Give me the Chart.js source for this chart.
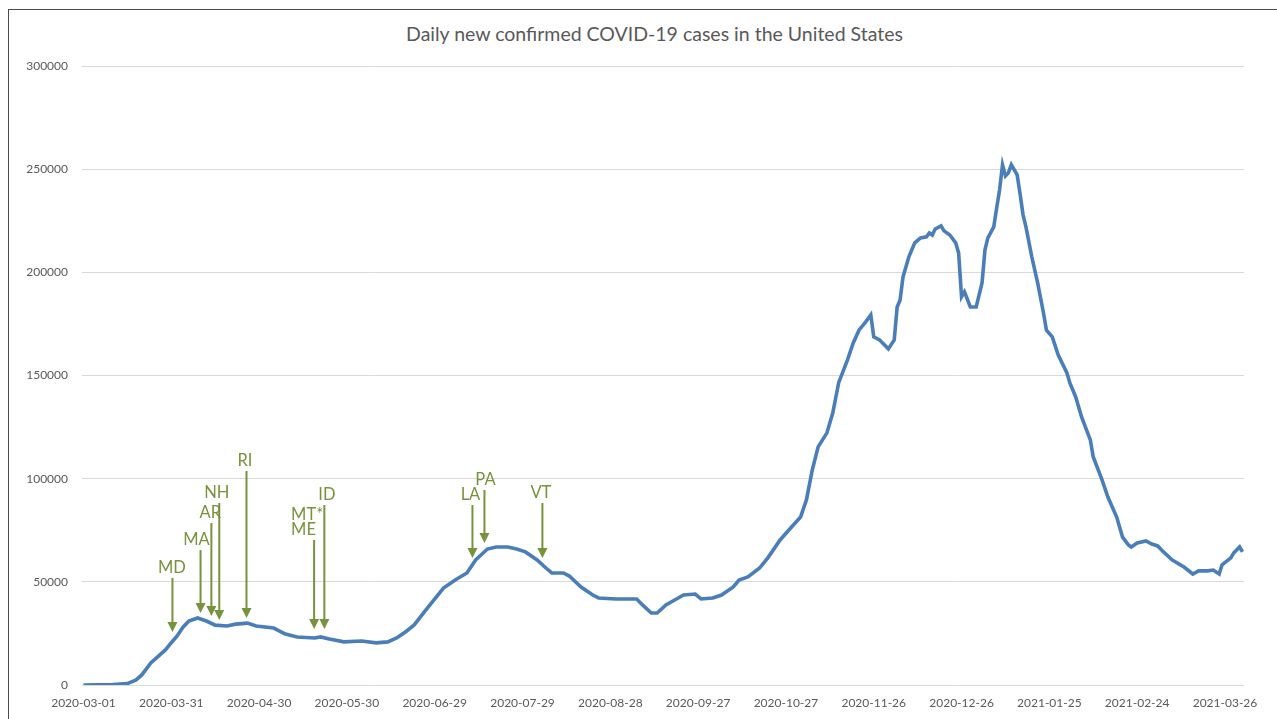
<!DOCTYPE html>
<html>
<head>
<meta charset="utf-8">
<script src="https://cdn.jsdelivr.net/npm/chart.js@4.4.1/dist/chart.umd.min.js"></script>
<style>
  html, body { margin:0; padding:0; background:#fff; }
  body { width:1277px; height:719px; overflow:hidden; position:relative; font-family: Lato, "Open Sans", sans-serif; }
  .frame { position:absolute; left:8px; top:9px; width:1400px; height:800px; border-left:1.5px solid #4d4d4d; border-top:1.5px solid #4d4d4d; }
  .title { position:absolute; left:0; width:1309px; top:22px; text-align:center; font-size:19.5px; color:#595959; }
  #wrap { position:absolute; left:0; top:0; width:1277px; height:719px; }
</style>
</head>
<body>
<div class="frame"></div>
<div class="title">Daily new confirmed COVID-19 cases in the United States</div>
<div id="wrap"><canvas id="chart" width="1277" height="719"></canvas></div>
<script>
// x axis: days since 2020-03-01, labelled every 30 days
const tickDays = [0, 30, 60, 90, 120, 150, 180, 210, 240, 270, 300, 330, 360, 390];
const tickLabels = ['2020-03-01', '2020-03-31', '2020-04-30', '2020-05-30', '2020-06-29', '2020-07-29',
  '2020-08-28', '2020-09-27', '2020-10-27', '2020-11-26', '2020-12-26', '2021-01-25', '2021-02-24', '2021-03-26'];

// curve
const days = [0, 5, 10, 15, 18, 20, 23, 26, 28, 30, 32, 34, 36, 39, 42, 45, 49, 52, 56, 59,
  65, 69, 73, 79, 81, 84, 89, 95, 100, 104, 107, 110, 113, 117, 123, 127, 131, 134, 138, 141,
  145, 148, 151, 155, 158, 160, 164, 166, 170, 174, 176, 182, 189, 191, 194, 196, 199, 202, 205, 209,
  211, 215, 218, 222, 224, 227, 231, 234, 238, 241, 245, 247, 249, 251, 254, 256, 258, 261, 263, 265,
  267, 269, 270, 272, 275, 277, 278, 279, 280, 282, 284, 286, 288, 289, 290, 291, 293, 294, 296, 298,
  299, 300, 301, 303, 305, 307, 308, 309, 311, 312, 313, 314, 315, 316, 317, 319, 320, 321, 322, 324,
  326, 328, 329, 331, 333, 336, 337, 339, 341, 344, 345, 348, 350, 353, 355, 357, 358, 360, 363, 365,
  367, 369, 372, 376, 379, 381, 384, 386, 388, 389, 392, 393, 395, 396];
const cases = [10, 40, 200, 700, 2500, 5000, 10700, 14500, 17000, 20500, 23800, 28000, 31000, 32500, 31000, 29000, 28600, 29500, 30000, 28600,
  27600, 24700, 23300, 22800, 23300, 22300, 20900, 21300, 20400, 20900, 22800, 25700, 29100, 36400, 47000, 50900, 54300, 60600, 65900, 66900,
  66900, 65900, 64500, 60600, 56700, 54300, 54300, 52800, 47500, 43600, 42200, 41700, 41700, 38800, 34900, 34900, 38800, 41200, 43600, 44100,
  41700, 42200, 43600, 47500, 50900, 52400, 56700, 62000, 70300, 75100, 81400, 89700, 104200, 115400, 122200, 131800, 146400, 157500, 165800, 172100,
  175500, 179400, 168700, 167200, 162900, 167200, 183200, 186600, 197800, 207500, 214300, 216700, 217200, 219100, 218100, 221000, 222500, 220100, 218100, 214300,
  209400, 188100, 190500, 183200, 183200, 194900, 210900, 216700, 222000, 231200, 240000, 252100, 246700, 248200, 252100, 247200, 238000, 228000, 222000, 207500,
  194900, 180300, 172000, 168700, 160000, 151200, 146400, 139600, 129900, 118800, 110500, 99400, 91100, 81400, 71700, 67900, 66900, 68800, 69800, 68300,
  67400, 64500, 60600, 57200, 53800, 55300, 55300, 55700, 53800, 58200, 61600, 64000, 66900, 64500];

// state markers: arrow from noteTops down to noteTips
const noteLabels = ['MD', 'MA', 'AR', 'NH', 'RI', 'MT*\nME', 'ID', 'LA', 'PA', 'VT'];
const noteDays = [30.4, 40, 43.7, 46.4, 55.7, 78.8, 82.3, 132.9, 137, 156.8];
const noteTips = [25700, 34900, 33400, 31500, 32500, 27100, 27100, 61500, 68800, 61500];
const noteTops = [51900, 65400, 78500, 88200, 103700, 70300, 87200, 87200, 94500, 88200];
// small sideways shift of each label against its arrow, px
const labelNudge = [-0.5, -4, -1, -2.5, -1.5, -7, 2.5, -2, 1, -1.5];

const stateArrows = {
  id: 'stateArrows',
  afterDatasetsDraw(chart) {
    const ctx = chart.ctx;
    const xs = chart.scales.x, ys = chart.scales.y;
    ctx.save();
    ctx.strokeStyle = '#77933C';
    ctx.fillStyle = '#77933C';
    ctx.lineWidth = 2;
    ctx.font = '16.5px Lato, "Open Sans", sans-serif';
    ctx.textBaseline = 'middle';
    noteLabels.forEach((label, i) => {
      const x = xs.getPixelForValue(noteDays[i]);
      const yTip = ys.getPixelForValue(noteTips[i]);
      const yTop = ys.getPixelForValue(noteTops[i]);
      ctx.beginPath();
      ctx.moveTo(x, yTop);
      ctx.lineTo(x, yTip - 9);
      ctx.stroke();
      ctx.beginPath();
      ctx.moveTo(x - 5, yTip - 10);
      ctx.lineTo(x + 5, yTip - 10);
      ctx.lineTo(x, yTip);
      ctx.closePath();
      ctx.fill();
      const lines = label.split('\n');
      if (lines.length > 1) {
        // stacked labels share a left edge
        ctx.textAlign = 'left';
        const w = ctx.measureText(lines[0]).width;
        lines.forEach((t, k) => {
          ctx.fillText(t, x + labelNudge[i] - w / 2, yTop - 10 - (lines.length - 1 - k) * 15);
        });
      } else {
        ctx.textAlign = 'center';
        ctx.fillText(label, x + labelNudge[i], yTop - 10);
      }
    });
    ctx.restore();
  }
};

new Chart(document.getElementById('chart'), {
  type: 'line',
  data: {
    datasets: [{
      data: days.map((d, i) => ({ x: d, y: cases[i] })),
      borderColor: '#4A7EBB',
      borderWidth: 3.6,
      pointRadius: 0,
      tension: 0,
      fill: false
    }]
  },
  options: {
    responsive: false,
    devicePixelRatio: 1,
    animation: false,
    layout: { padding: { top: 66, right: 33, left: 0, bottom: 0 } },
    plugins: { legend: { display: false }, tooltip: { enabled: false } },
    scales: {
      x: {
        type: 'linear', min: -0.5, max: 396.5,
        afterBuildTicks: axis => { axis.ticks = tickDays.map(v => ({ value: v })); },
        afterFit: axis => { axis.height = 34; },
        grid: { display: false, drawTicks: false },
        border: { display: false },
        ticks: {
          autoSkip: false, maxRotation: 0, padding: 11,
          color: '#595959', font: { family: 'Lato', size: 12 },
          callback: v => tickLabels[tickDays.indexOf(v)]
        }
      },
      y: {
        min: 0, max: 300000,
        afterFit: axis => { axis.width = 82; },
        grid: { color: '#d9d9d9', lineWidth: 1, drawTicks: false },
        border: { display: false },
        ticks: {
          stepSize: 50000, padding: 14,
          color: '#595959', font: { family: 'Lato', size: 12 },
          callback: v => String(v)
        }
      }
    }
  },
  plugins: [stateArrows]
});
</script>
</body>
</html>
